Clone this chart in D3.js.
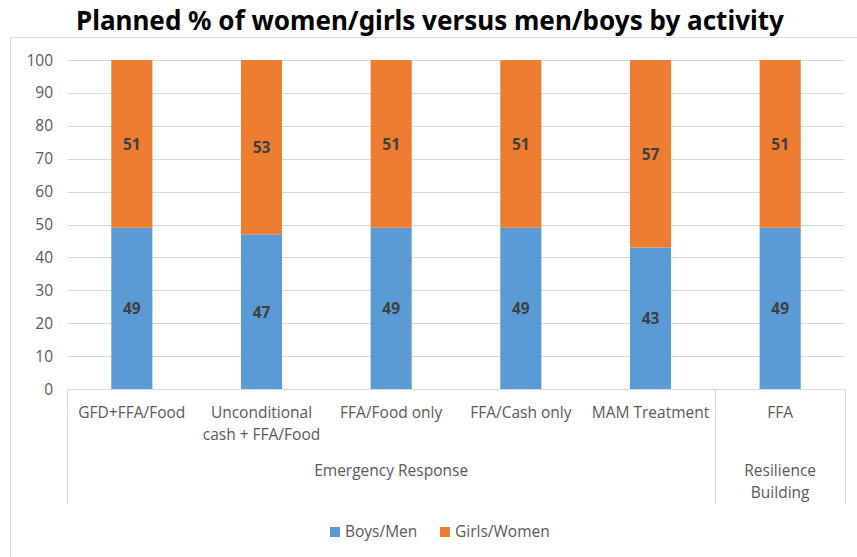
<!DOCTYPE html>
<html><head><meta charset="utf-8">
<script src="https://cdn.jsdelivr.net/npm/d3@7"></script>
<style>body{margin:0;background:#fff}svg{display:block}</style>
</head><body>
<svg id="c" width="857" height="557"></svg>
<script>
const categories = ["GFD+FFA/Food", "Unconditional\ncash + FFA/Food", "FFA/Food only", "FFA/Cash only", "MAM Treatment", "FFA"];
const groups = [{name: "Emergency Response", from: 0, to: 4}, {name: "Resilience\nBuilding", from: 5, to: 5}];
const boysMen = [49, 47, 49, 49, 43, 49];
const girlsWomen = [51, 53, 51, 51, 57, 51];
const seriesNames = ["Boys/Men", "Girls/Women"];
const yTicks = [0, 10, 20, 30, 40, 50, 60, 70, 80, 90, 100];
const colors = ["#5B9BD5", "#ED7D31"];

(function () {
const svg = d3.select("#c");
const font = "'Open Sans', 'Noto Sans', sans-serif";
const pL = 67, pR = 845, pT = 60, pB = 389;
const fs = 15.5;

svg.append("rect").attr("x", 10.5).attr("y", 37.5).attr("width", 870).attr("height", 540)
  .attr("fill", "#fff").attr("stroke", "#d9d9d9");

svg.append("text").attr("x", 430).attr("y", 30).attr("text-anchor", "middle")
  .attr("font-family", "'Noto Sans', sans-serif").attr("font-weight", "bold").attr("font-size", 26)
  .attr("fill", "#000").attr("textLength", 708).attr("lengthAdjust", "spacingAndGlyphs")
  .text("Planned % of women/girls versus men/boys by activity");

const x = d3.scaleBand().domain(d3.range(categories.length)).range([pL, pR]).paddingInner(0.683).paddingOuter(0.3415);
const xOuter = d3.scaleBand().domain(d3.range(categories.length)).range([pL, pR]);
const y = d3.scaleLinear().domain([0, 100]).range([pB, pT]);

svg.append("g").selectAll("line").data(yTicks.filter(d => d > 0)).join("line")
  .attr("x1", pL).attr("x2", pR).attr("y1", d => Math.round(y(d)) + 0.5).attr("y2", d => Math.round(y(d)) + 0.5)
  .attr("stroke", "#d9d9d9");

svg.append("g").selectAll("text").data(yTicks).join("text")
  .attr("x", 53).attr("y", d => y(d) + 5.5).attr("text-anchor", "end")
  .attr("font-family", font).attr("font-size", fs).attr("fill", "#595959").text(d => d);

const stackData = categories.map((c, i) => ({i, a: boysMen[i], b: girlsWomen[i]}));
const stack = d3.stack().keys(["a", "b"])(stackData);

stack.forEach((s, si) => {
  svg.append("g").selectAll("rect").data(s).join("rect")
    .attr("x", d => x(d.data.i)).attr("width", x.bandwidth())
    .attr("y", d => y(d[1])).attr("height", d => y(d[0]) - y(d[1]))
    .attr("fill", colors[si]);
  svg.append("g").selectAll("text").data(s).join("text")
    .attr("x", d => x(d.data.i) + x.bandwidth() / 2).attr("y", d => y((d[0] + d[1]) / 2) + 6)
    .attr("text-anchor", "middle").attr("font-family", font).attr("font-weight", "bold")
    .attr("font-size", 15.5).attr("fill", "#404040").text(d => d[1] - d[0]);
});

svg.append("line").attr("x1", pL).attr("x2", pR).attr("y1", pB + 0.5).attr("y2", pB + 0.5).attr("stroke", "#d9d9d9");
const seps = [0, ...groups.map(g => g.to + 1)];
svg.append("g").selectAll("line").data(seps).join("line")
  .attr("x1", d => Math.round(xOuter(d) ?? pR) + 0.5).attr("x2", d => Math.round(xOuter(d) ?? pR) + 0.5)
  .attr("y1", pB).attr("y2", 504).attr("stroke", "#d9d9d9");

categories.forEach((c, i) => {
  const t = svg.append("text").attr("text-anchor", "middle").attr("font-family", font)
    .attr("font-size", fs).attr("fill", "#595959");
  c.split("\n").forEach((ln, k) => t.append("tspan").attr("x", xOuter(i) + xOuter.bandwidth() / 2).attr("y", 418 + k * 22).text(ln));
});
groups.forEach(g => {
  const cx = (xOuter(g.from) + xOuter(g.to) + xOuter.bandwidth()) / 2;
  const t = svg.append("text").attr("text-anchor", "middle").attr("font-family", font)
    .attr("font-size", fs).attr("fill", "#595959");
  g.name.split("\n").forEach((ln, k) => t.append("tspan").attr("x", cx).attr("y", 476 + k * 22).text(ln));
});

const legX = [330, 440];
seriesNames.forEach((n, i) => {
  svg.append("rect").attr("x", legX[i]).attr("y", 527).attr("width", 10).attr("height", 10).attr("fill", colors[i]);
  svg.append("text").attr("x", legX[i] + 15).attr("y", 537).attr("font-family", font)
    .attr("font-size", fs).attr("fill", "#595959").text(n);
});
})();
</script>
</body></html>
